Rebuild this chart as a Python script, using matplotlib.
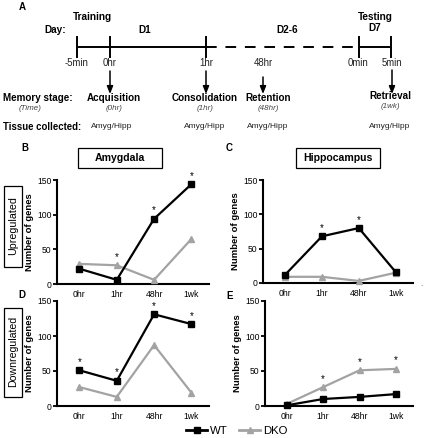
import matplotlib
matplotlib.use("Agg")
import matplotlib.pyplot as plt
from matplotlib.lines import Line2D
from matplotlib.patches import Rectangle

plt.rcParams['font.family'] = ['Liberation Sans', 'DejaVu Sans']

# ---------------- data ----------------
categories = ['0hr', '1hr', '48hr', '1wk']
amyg_up_wt = [22, 6, 94, 144]
amyg_up_dko = [29, 27, 6, 65]
hipp_up_wt = [12, 68, 80, 16]
hipp_up_dko = [9, 9, 3, 15]
amyg_down_wt = [51, 36, 131, 117]
amyg_down_dko = [27, 13, 87, 19]
hipp_down_wt = [1, 10, 13, 17]
hipp_down_dko = [3, 27, 51, 53]
stars_B = [False, True, True, True]
stars_C = [False, True, True, False]
stars_D = [True, True, True, True]
stars_E = [False, True, True, True]
yticks = [0, 50, 100, 150]
series_labels = ['WT', 'DKO']

# timeline (panel A) text
time_labels = ['-5min', '0hr', '1hr', '48hr', '0min', '5min']
stage_names = ['Acquisition', 'Consolidation', 'Retention', 'Retrieval']
stage_times = ['(0hr)', '(1hr)', '(48hr)', '(1wk)']
tissue = ['Amyg/Hipp', 'Amyg/Hipp', 'Amyg/Hipp', 'Amyg/Hipp']

W, H = 425, 438
fig = plt.figure(figsize=(W / 100, H / 100), dpi=100)

BLACK = '#000000'
GRAY = '#a3a3a3'

# ---------- overlay axes in pixel coordinates for diagram ----------
ov = fig.add_axes([0, 0, 1, 1])
ov.set_xlim(0, W)
ov.set_ylim(H, 0)
ov.axis('off')

lw_t = 1.4
ty = 47
ov.plot([77, 206], [ty, ty], color=BLACK, lw=lw_t, solid_capstyle='butt')
ov.plot([206, 359], [ty, ty], color=BLACK, lw=lw_t, linestyle=(0, (5.5, 4.5)))
ov.plot([359, 391], [ty, ty], color=BLACK, lw=lw_t, solid_capstyle='butt')
tick_x = [77, 110, 206, 359, 391]
for x in tick_x:
    ov.plot([x, x], [37, 57], color=BLACK, lw=lw_t)

label_x = [77, 110, 206, 263, 358, 392]
for x, t in zip(label_x, time_labels):
    ov.text(x, 63, t, ha='center', va='center', fontsize=6.9, color='#222222')

ov.text(22, 7, 'A', fontsize=7, fontweight='bold', ha='center', va='center')
ov.text(92, 17, 'Training', fontsize=7.2, fontweight='bold', ha='center', va='center')
ov.text(55, 30, 'Day:', fontsize=7.2, fontweight='bold', ha='center', va='center')
ov.text(145, 30, 'D1', fontsize=7.2, fontweight='bold', ha='center', va='center')
ov.text(287, 30, 'D2-6', fontsize=7.2, fontweight='bold', ha='center', va='center')
ov.text(375, 17, 'Testing', fontsize=7.2, fontweight='bold', ha='center', va='center')
ov.text(375, 28, 'D7', fontsize=7.2, fontweight='bold', ha='center', va='center')

arrow_x = [110, 206, 263, 392]
arrow_top = [71, 71, 77, 70]
for x, y0 in zip(arrow_x, arrow_top):
    ov.annotate('', xy=(x, 94), xytext=(x, y0),
                arrowprops=dict(arrowstyle='-|>,head_length=0.45,head_width=0.18',
                                color=BLACK, lw=1.1, shrinkA=0, shrinkB=0))

ov.text(3, 98, 'Memory stage:', fontsize=7.1, fontweight='bold', ha='left', va='center')
ov.text(30, 108, '(Time)', fontsize=5.8, style='italic', color='#444444', ha='center', va='center')
stage_x = [114, 205, 268, 390]
stage_y = [98, 98, 98, 96]
for x, y, n, t in zip(stage_x, stage_y, stage_names, stage_times):
    ov.text(x, y, n, fontsize=7.1, fontweight='bold', ha='center', va='center')
    ov.text(x, y + 10, t, fontsize=5.8, style='italic', color='#444444', ha='center', va='center')

ov.text(3, 127, 'Tissue collected:', fontsize=6.9, fontweight='bold', ha='left', va='center')
tissue_x = [112, 205, 268, 390]
for x, t in zip(tissue_x, tissue):
    ov.text(x, 127, t, fontsize=6.0, ha='center', va='center', color='#222222')

# panel letters and boxes
ov.text(25, 148, 'B', fontsize=7, fontweight='bold', ha='center', va='center')
ov.text(229, 148, 'C', fontsize=7, fontweight='bold', ha='center', va='center')
ov.text(22, 295, 'D', fontsize=7, fontweight='bold', ha='center', va='center')
ov.text(230, 296, 'E', fontsize=7, fontweight='bold', ha='center', va='center')

ov.add_patch(Rectangle((78, 148), 84, 20, fill=False, lw=0.9, ec=BLACK))
ov.text(120, 158, 'Amygdala', fontsize=7.6, fontweight='bold', ha='center', va='center')
ov.add_patch(Rectangle((296, 148), 84, 20, fill=False, lw=0.9, ec=BLACK))
ov.text(338, 158, 'Hippocampus', fontsize=7.6, fontweight='bold', ha='center', va='center')

ov.add_patch(Rectangle((4, 186), 18, 81, fill=False, lw=0.9, ec=BLACK))
ov.text(13, 226, 'Upregulated', fontsize=7.7, rotation=90, ha='center', va='center')
ov.add_patch(Rectangle((4, 308), 18, 89, fill=False, lw=0.9, ec=BLACK))
ov.text(13, 351, 'Downregulated', fontsize=7.6, rotation=90, ha='center', va='center')
ov.text(421, 284, '.', fontsize=6, ha='center', va='center', color='#555555')


def make_axes(left, right, top, bottom):
    return fig.add_axes([left / W, 1 - bottom / H, (right - left) / W, (bottom - top) / H])


def draw_panel(ax, wt, dko, stars):
    x = list(range(len(categories)))
    ax.plot(x, dko, color=GRAY, lw=1.6, marker='^', ms=5, mec=GRAY, mfc=GRAY, clip_on=False, zorder=3)
    ax.plot(x, wt, color=BLACK, lw=1.6, marker='s', ms=4, mec=BLACK, mfc=BLACK, clip_on=False, zorder=4)
    for i, s in enumerate(stars):
        if s:
            y = max(wt[i], dko[i])
            ax.annotate('*', xy=(i, y), xytext=(0, 2.5), textcoords='offset points',
                        ha='center', va='bottom', fontsize=7, annotation_clip=False)
    ax.set_xlim(-0.6, 3.47)
    ax.set_ylim(0, 150)
    ax.set_yticks(yticks)
    ax.set_xticks(x)
    ax.set_xticklabels(categories)
    for side in ['top', 'right']:
        ax.spines[side].set_visible(False)
    for side in ['left', 'bottom']:
        ax.spines[side].set_linewidth(1.5)
    ax.tick_params(axis='y', length=3, width=1.3, labelsize=6.2, pad=1)
    ax.tick_params(axis='x', length=0, labelsize=6.2, pad=4)
    ax.set_ylabel('Number of genes', fontsize=6.8, fontweight='bold', labelpad=2)
    ax.patch.set_alpha(0)


axB = make_axes(57, 209, 180, 284)
draw_panel(axB, amyg_up_wt, amyg_up_dko, stars_B)
axC = make_axes(263, 413, 180, 283)
draw_panel(axC, hipp_up_wt, hipp_up_dko, stars_C)
axD = make_axes(57, 209, 301, 406)
draw_panel(axD, amyg_down_wt, amyg_down_dko, stars_D)
axE = make_axes(265, 413, 301, 406)
draw_panel(axE, hipp_down_wt, hipp_down_dko, stars_E)

handles = [Line2D([], [], color=BLACK, lw=2, marker='s', ms=5),
           Line2D([], [], color=GRAY, lw=2, marker='^', ms=5)]
fig.legend(handles, series_labels, loc='center', bbox_to_anchor=(237 / W, 1 - 431 / H),
           ncol=2, frameon=False, fontsize=8.2, handlelength=1.8, handletextpad=0.3,
           columnspacing=1.0, borderpad=0, borderaxespad=0)

fig.savefig('out.png', dpi=100)
